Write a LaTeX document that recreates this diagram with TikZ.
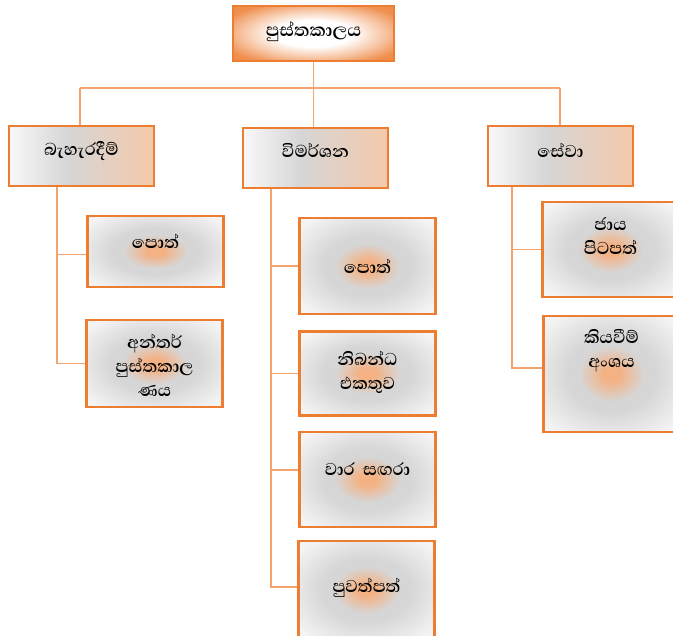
\documentclass[tikz,border=0pt]{standalone}
\usepackage{fontspec}
\newfontfamily\sinhala[Script=Sinhala]{Abhaya Libre}
\definecolor{orB}{HTML}{ED7D31}
\definecolor{orL}{HTML}{F2A46C}
\definecolor{peach}{HTML}{F4B183}
\definecolor{gmid}{HTML}{D6D6D6}
\definecolor{gedge}{HTML}{F4F4F4}
\definecolor{peachR}{HTML}{F2CAAE}
\pgfdeclareradialshading{childshade}{\pgfpointorigin}{color(0bp)=(peach); color(3bp)=(peach); color(12bp)=(gmid); color(16bp)=(gmid); color(32bp)=(gedge); color(50bp)=(gedge)}
\pgfdeclareradialshading{topshade}{\pgfpointorigin}{color(0bp)=(white); color(12bp)=(white); color(22bp)=(orB!45!white); color(30bp)=(orB!85!white); color(50bp)=(orB)}
\pgfdeclarehorizontalshading{levshade}{100bp}{color(0bp)=(white); color(25bp)=(gedge!60!white); color(45bp)=(gmid); color(72bp)=(peachR); color(100bp)=(peachR)}
\tikzset{
  conn/.style={draw=orL, line width=1.3},
  topbox/.style={draw=orB, line width=1.5, shading=topshade, minimum width=161, minimum height=55, inner sep=0},
  levbox/.style={draw=orB, line width=2.5, shading=levshade, minimum width=145, minimum height=60, inner sep=0},
  kidbox/.style={draw=orB, line width=2.5, shading=childshade, minimum width=136, inner sep=0},
  txt/.style={font=\sinhala\bfseries\fontsize{22}{24}\selectfont, align=center, inner sep=0}
}
\begin{document}
\begin{tikzpicture}[x=1pt,y=-1pt]
\useasboundingbox (0,0) rectangle (673,636);
\clip (0,0) rectangle (673,636);
% boxes
\node[topbox] (top) at (313.5,33.5) {};
\node[levbox] (bah) at (81.5,156) {};
\node[levbox] (vim) at (315.5,158) {};
\node[levbox] (sev) at (560.5,156) {};
\node[kidbox, minimum height=71] (bpot) at (155.5,251.5) {};
\node[kidbox, minimum height=87] (bant) at (154.5,363.5) {};
\node[kidbox, minimum height=96] (vpot) at (367.5,266) {};
\node[kidbox, minimum height=84] (vnib) at (367.5,373.5) {};
\node[kidbox, minimum height=95] (vvaa) at (367.5,479.5) {};
\node[kidbox, minimum height=98] (vpuw) at (366.5,590) {};
\node[kidbox, minimum height=95] (sjaa) at (610.5,249.5) {};
\node[kidbox, minimum height=116] (skiy) at (611.5,374) {};
% texts
\node[txt, font=\sinhala\bfseries\fontsize{23}{24}\selectfont] (ttop) at ([yshift=2]top.center) {පුස්තකාලය};
\node[txt] (tbah) at ([yshift=5]bah.center) {බැහැරදීම්};
\node[txt] (tvim) at ([yshift=8]vim.center) {විමර්ශන};
\node[txt] (tsev) at ([yshift=6]sev.center) {සේවා};
\node[txt] (tbpot) at ([yshift=10]bpot.center) {පොත්};
\node[txt] (tbant) at ([yshift=-2]bant.center) {අන්තර්\\පුස්තකාල\\ණය};
\node[txt] (tvpot) at (vpot.center) {පොත්};
\node[txt] (tvnib) at ([yshift=1]vnib.center) {නිබන්ධ\\එකතුව};
\node[txt] (tvvaa) at ([yshift=10]vvaa.center) {වාර\hspace{8pt}සඟරා};
\node[txt] (tvpuw) at ([yshift=2]vpuw.center) {පුවත්පත්};
\node[txt] (tsjaa) at ([yshift=13]sjaa.center) {ජාය\\පිටපත්};
\node[txt] (tskiy) at ([yshift=23]skiy.center) {කියවීම්\\අංශය};
% connectors
\coordinate (busL) at (80,88);
\coordinate (busR) at (560,88);
\coordinate (bx) at (57,0);
\coordinate (vx) at (271,0);
\coordinate (sx) at (512,0);
\draw[conn] (busL) -- (busR);
\draw[conn] (top.south) -- (top.south |- vim.north);
\draw[conn] (busL) -- (busL |- bah.north);
\draw[conn] (busR) -- (busR |- sev.north);
\draw[conn] (bah.south -| bx) |- ([yshift=-3]bpot.west);
\draw[conn] (bah.south -| bx) |- (bant.west);
\draw[conn] (vim.south -| vx) |- (vpot.west);
\draw[conn] (vim.south -| vx) |- (vnib.west);
\draw[conn] (vim.south -| vx) |- ([yshift=9.5]vvaa.west);
\draw[conn] (vim.south -| vx) |- ([yshift=3]vpuw.west);
\draw[conn] (sev.south -| sx) |- (sjaa.west);
\draw[conn] (sev.south -| sx) |- ([yshift=6]skiy.west);
\end{tikzpicture}
\end{document}
